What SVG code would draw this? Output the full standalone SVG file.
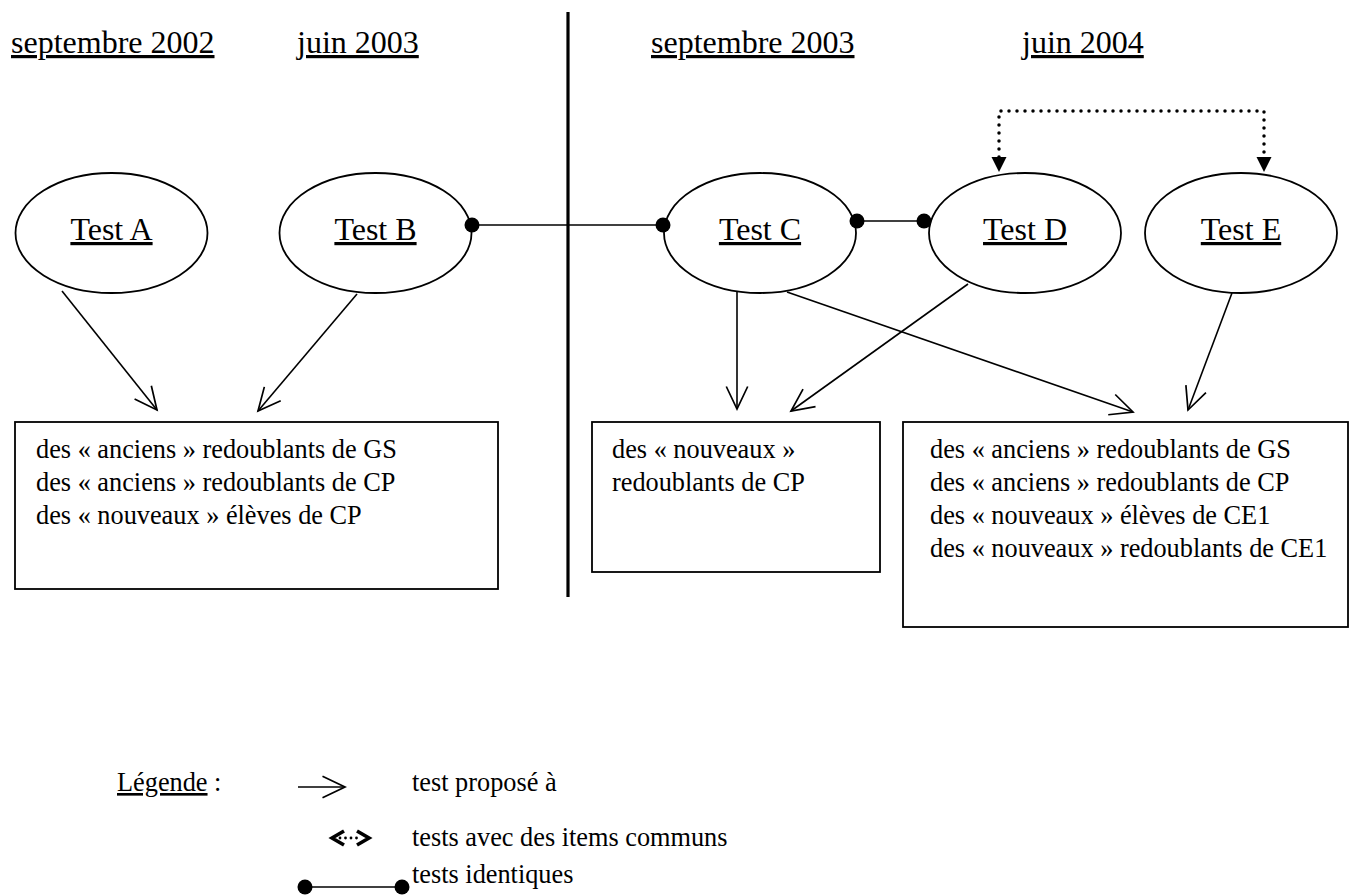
<svg xmlns="http://www.w3.org/2000/svg" width="1351" height="895" viewBox="0 0 1351 895">
<style>
text{font-family:"Liberation Serif","Times New Roman",serif;fill:#000}
.h{font-size:32px;text-decoration:underline}
.t{font-size:26.3px}
.n{fill:#fff;stroke:#000;stroke-width:1.8}
.c{fill:none;stroke:#000;stroke-width:1.6}
.d{fill:none;stroke:#000;stroke-width:3.5;stroke-dasharray:0 8;stroke-linecap:round}
.dot{fill:#000}
</style>
<defs>
<marker id="open" markerUnits="userSpaceOnUse" markerWidth="30" markerHeight="30" refX="0" refY="0" viewBox="-24 -12 28 24" orient="auto" overflow="visible">
<path d="M-21,-10 L0,0 L-21,10" fill="none" stroke="#000" stroke-width="1.6"/>
</marker>
</defs>

<g id="headers">
<text class="h" x="11" y="53">septembre 2002</text>
<text class="h" x="297" y="53">juin 2003</text>
<text class="h" x="651" y="53">septembre 2003</text>
<text class="h" x="1022" y="53">juin 2004</text>
</g>

<line id="divider" x1="568" y1="12" x2="568" y2="597" stroke="#000" stroke-width="3.2"/>

<g id="testA"><ellipse class="n" cx="111.5" cy="233" rx="96" ry="60"/><text class="h" x="111.5" y="240" text-anchor="middle">Test A</text></g>
<g id="testB"><ellipse class="n" cx="375.5" cy="233" rx="96" ry="60"/><text class="h" x="375.5" y="240" text-anchor="middle">Test B</text></g>
<g id="testC"><ellipse class="n" cx="760" cy="233" rx="96" ry="60"/><text class="h" x="760" y="240" text-anchor="middle">Test C</text></g>
<g id="testD"><ellipse class="n" cx="1025" cy="233" rx="96" ry="60"/><text class="h" x="1025" y="240" text-anchor="middle">Test D</text></g>
<g id="testE"><ellipse class="n" cx="1241" cy="233" rx="96" ry="60"/><text class="h" x="1241" y="240" text-anchor="middle">Test E</text></g>

<g id="box1"><rect class="n" x="15" y="422" width="483" height="167"/>
<text class="t" x="36" y="458">des « anciens » redoublants de GS</text>
<text class="t" x="36" y="491">des « anciens » redoublants de CP</text>
<text class="t" x="36" y="524">des « nouveaux » élèves de CP</text></g>
<g id="box2"><rect class="n" x="592" y="422" width="288" height="150"/>
<text class="t" x="612" y="458">des « nouveaux »</text>
<text class="t" x="612" y="491">redoublants de CP</text></g>
<g id="box3"><rect class="n" x="903" y="422" width="445" height="205"/>
<text class="t" x="930" y="458">des « anciens » redoublants de GS</text>
<text class="t" x="930" y="491">des « anciens » redoublants de CP</text>
<text class="t" x="930" y="524">des « nouveaux » élèves de CE1</text>
<text class="t" x="930" y="557">des « nouveaux » redoublants de CE1</text></g>

<g id="connectors">
<line class="c" x1="62" y1="291" x2="157" y2="410" marker-end="url(#open)"/>
<line class="c" x1="357" y1="294" x2="258" y2="411" marker-end="url(#open)"/>
<line class="c" x1="737" y1="292" x2="737" y2="409" marker-end="url(#open)"/>
<line class="c" x1="968" y1="284" x2="791" y2="411" marker-end="url(#open)"/>
<line class="c" x1="787" y1="292" x2="1133" y2="412" marker-end="url(#open)"/>
<line class="c" x1="1232" y1="293" x2="1188" y2="410" marker-end="url(#open)"/>
<line class="c" x1="472" y1="225" x2="663" y2="225"/>
<circle class="dot" cx="472" cy="225" r="7.5"/><circle class="dot" cx="663" cy="225" r="7.5"/>
<line class="c" x1="857" y1="221" x2="924" y2="221"/>
<circle class="dot" cx="857" cy="221" r="7.5"/><circle class="dot" cx="924" cy="221" r="7.5"/>
<path class="d" d="M999,157 V111 H1264 V157"/>
<path d="M991.5,157 L1006.5,157 L999,172 Z" fill="#000"/>
<path d="M1256.5,157 L1271.5,157 L1264,172 Z" fill="#000"/>
</g>

<g id="legend">
<text class="t" x="117" y="791"><tspan text-decoration="underline">Légende</tspan> :</text>
<line class="c" x1="298" y1="787" x2="345" y2="787" marker-end="url(#open)"/>
<text class="t" x="412" y="791">test proposé à</text>
<path d="M344,831 L332,838 L344,845" fill="none" stroke="#000" stroke-width="3.6"/>
<path d="M357,831 L369,838 L357,845" fill="none" stroke="#000" stroke-width="3.6"/>
<line x1="340" y1="838" x2="362" y2="838" stroke="#000" stroke-width="2.8" stroke-dasharray="0 5.5" stroke-linecap="round"/>
<text class="t" x="412" y="846">tests avec des items communs</text>
<line class="c" x1="305" y1="887" x2="402" y2="887"/>
<circle class="dot" cx="305" cy="887" r="7.5"/><circle class="dot" cx="402" cy="887" r="7.5"/>
<text class="t" x="412" y="883">tests identiques</text>
</g>
</svg>
